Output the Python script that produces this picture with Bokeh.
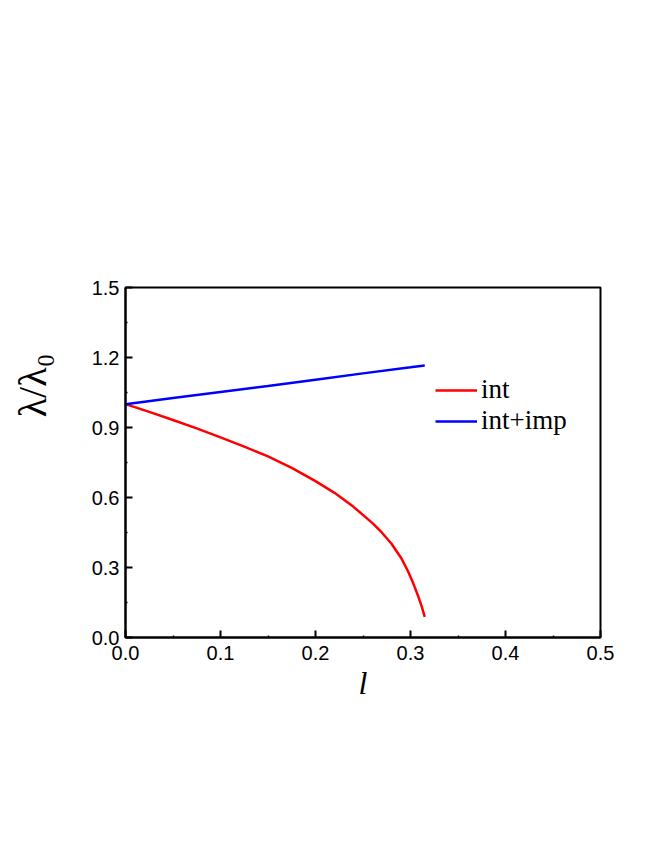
from bokeh.plotting import figure
from bokeh.models import FixedTicker, PrintfTickFormatter, Legend, LegendItem, Range1d, Title
from bokeh.embed import file_html
from bokeh.resources import INLINE

# data
l_int = [0.0, 0.025, 0.05, 0.075, 0.1, 0.125, 0.15, 0.175, 0.2, 0.22, 0.24, 0.26,
         0.27, 0.28, 0.29, 0.297, 0.303, 0.308, 0.312, 0.315]
lam_int = [1.0, 0.967, 0.932, 0.896, 0.858, 0.818, 0.776, 0.727, 0.670, 0.620, 0.560,
           0.490, 0.449, 0.402, 0.342, 0.287, 0.231, 0.178, 0.130, 0.088]

l_imp = [0.0, 0.05, 0.1, 0.15, 0.2, 0.25, 0.3, 0.315]
lam_imp = [1.0, 1.026, 1.052, 1.078, 1.105, 1.132, 1.158, 1.166]

x_ticks = [0.0, 0.1, 0.2, 0.3, 0.4, 0.5]
x_minor = [0.05, 0.15, 0.25, 0.35, 0.45]
y_ticks = [0.0, 0.3, 0.6, 0.9, 1.2, 1.5]
y_minor = [0.15, 0.45, 0.75, 1.05, 1.35]

p = figure(width=638, height=834, output_backend="svg", toolbar_location=None,
           x_range=Range1d(0, 0.5), y_range=Range1d(0, 1.5))
p.min_border_left = 125
p.min_border_right = 38
p.min_border_top = 287
p.min_border_bottom = 197
p.background_fill_color = "white"
p.border_fill_color = "white"
p.grid.visible = False
p.outline_line_color = "black"
p.outline_line_width = 2
p.outline_line_alpha = 1.0

r1 = p.line(l_int, lam_int, line_color="#ff0000", line_width=2.5)
r2 = p.line(l_imp, lam_imp, line_color="#0000ff", line_width=2.5)

for ax in (p.xaxis[0], p.yaxis[0]):
    ax.axis_line_color = "black"
    ax.axis_line_width = 2
    ax.major_tick_in = 7
    ax.major_tick_out = 0
    ax.minor_tick_in = 2
    ax.minor_tick_out = 0
    ax.major_tick_line_width = 2
    ax.minor_tick_line_width = 1.5
    ax.major_tick_line_color = "black"
    ax.minor_tick_line_color = "black"
    ax.major_label_text_font = "Liberation Sans"
    ax.major_label_text_font_size = "20px"
    ax.major_label_text_color = "black"
    ax.formatter = PrintfTickFormatter(format="%.1f")

p.xaxis[0].ticker = FixedTicker(ticks=x_ticks, minor_ticks=x_minor)
p.yaxis[0].ticker = FixedTicker(ticks=y_ticks, minor_ticks=y_minor)
p.xaxis[0].major_label_standoff = 8
p.yaxis[0].major_label_standoff = 6

p.xaxis[0].axis_label = "l"
p.xaxis[0].axis_label_text_font = "Liberation Serif"
p.xaxis[0].axis_label_text_font_style = "italic"
p.xaxis[0].axis_label_text_font_size = "32px"
p.xaxis[0].axis_label_text_color = "black"
p.xaxis[0].axis_label_standoff = 2

# invisible spacer label to set the gap between tick labels and the y title
p.yaxis[0].axis_label = "."
p.yaxis[0].axis_label_text_alpha = 0
p.yaxis[0].axis_label_text_font_size = "10px"
p.yaxis[0].axis_label_standoff = 23

ytitle = Title(text="λ/λ₀", align="right", offset=66, standoff=0,
               text_font="Liberation Serif", text_font_size="40px",
               text_font_style="normal", text_color="black")
p.add_layout(ytitle, "left")

legend = Legend(items=[LegendItem(label="int", renderers=[r1]),
                       LegendItem(label="int+imp", renderers=[r2])],
                location=(310, 201))
legend.label_text_font = "Liberation Serif"
legend.label_text_font_size = "27px"
legend.label_text_color = "black"
legend.glyph_width = 42
legend.glyph_height = 30
legend.label_height = 30
legend.label_standoff = 4
legend.spacing = 0
legend.padding = 0
legend.margin = 0
legend.border_line_alpha = 0
legend.background_fill_alpha = 0
p.add_layout(legend)

open("out.html", "w").write(file_html(p, INLINE))
